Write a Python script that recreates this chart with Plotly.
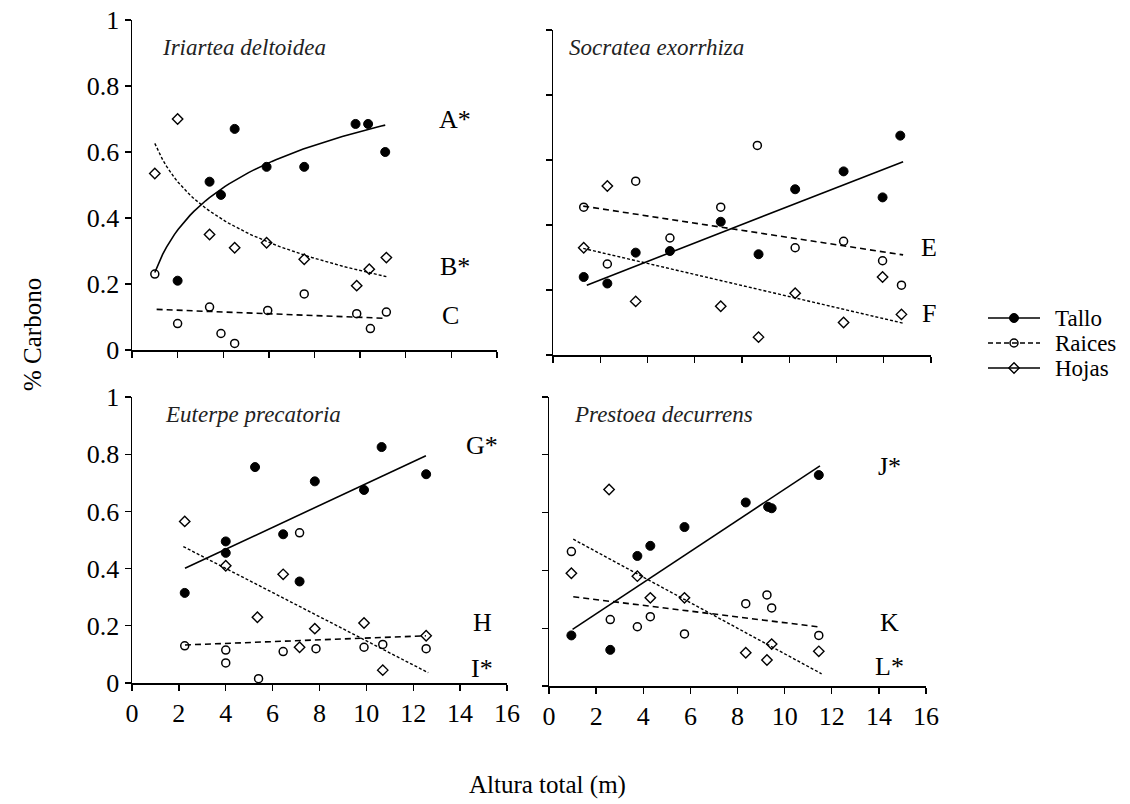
import numpy as np
import plotly.graph_objects as go

# ---------------- data ----------------
x_ticks = [0, 2, 4, 6, 8, 10, 12, 14, 16]
y_ticks = [0, 0.2, 0.4, 0.6, 0.8, 1]
y_tick_labels = ["0", "0.2", "0.4", "0.6", "0.8", "1"]
series_names = ["Tallo", "Raices", "Hojas"]
species = ["Iriartea deltoidea", "Socratea exorrhiza", "Euterpe precatoria", "Prestoea decurrens"]

# Iriartea deltoidea
iri_tallo_x = [2.0, 3.4, 3.9, 4.5, 5.9, 7.55, 9.8, 10.35, 11.1]
iri_tallo_y = [0.21, 0.51, 0.47, 0.67, 0.555, 0.555, 0.685, 0.685, 0.60]
iri_raices_x = [1.0, 2.0, 3.4, 3.9, 4.5, 5.95, 7.55, 9.85, 10.45, 11.15]
iri_raices_y = [0.23, 0.08, 0.13, 0.05, 0.02, 0.12, 0.17, 0.11, 0.065, 0.115]
iri_hojas_x = [1.0, 2.0, 3.4, 4.5, 5.9, 7.55, 9.85, 10.4, 11.15]
iri_hojas_y = [0.535, 0.70, 0.35, 0.31, 0.325, 0.275, 0.195, 0.245, 0.28]

# Socratea exorrhiza
soc_tallo_x = [1.3, 2.3, 3.5, 4.95, 7.1, 8.7, 10.25, 12.3, 13.95, 14.7]
soc_tallo_y = [0.24, 0.22, 0.315, 0.32, 0.41, 0.31, 0.51, 0.565, 0.485, 0.675]
soc_raices_x = [1.3, 2.3, 3.5, 4.95, 7.1, 8.65, 10.25, 12.3, 13.95, 14.75]
soc_raices_y = [0.455, 0.28, 0.535, 0.36, 0.455, 0.645, 0.33, 0.35, 0.29, 0.215]
soc_hojas_x = [1.3, 2.3, 3.5, 7.1, 8.7, 10.25, 12.3, 13.95, 14.75]
soc_hojas_y = [0.33, 0.52, 0.165, 0.15, 0.055, 0.19, 0.10, 0.24, 0.125]

# Euterpe precatoria
eut_tallo_x = [2.25, 4.0, 4.0, 5.25, 6.45, 7.15, 7.8, 9.9, 10.65, 12.55]
eut_tallo_y = [0.315, 0.495, 0.455, 0.755, 0.52, 0.355, 0.705, 0.675, 0.825, 0.73]
eut_raices_x = [2.25, 4.0, 4.0, 5.4, 6.45, 7.15, 7.85, 9.9, 10.7, 12.55]
eut_raices_y = [0.13, 0.115, 0.07, 0.015, 0.11, 0.525, 0.12, 0.125, 0.135, 0.12]
eut_hojas_x = [2.25, 4.0, 5.35, 6.45, 7.15, 7.8, 9.9, 10.7, 12.55]
eut_hojas_y = [0.565, 0.41, 0.23, 0.38, 0.125, 0.19, 0.21, 0.045, 0.165]

# Prestoea decurrens
pre_tallo_x = [0.95, 2.6, 3.75, 4.3, 5.75, 8.35, 9.3, 9.45, 11.45]
pre_tallo_y = [0.175, 0.125, 0.45, 0.485, 0.55, 0.635, 0.62, 0.615, 0.73]
pre_raices_x = [0.95, 2.6, 3.75, 4.3, 5.75, 8.35, 9.25, 9.45, 11.45]
pre_raices_y = [0.465, 0.23, 0.205, 0.24, 0.18, 0.285, 0.315, 0.27, 0.175]
pre_hojas_x = [0.95, 2.55, 3.75, 4.3, 5.75, 8.35, 9.25, 9.45, 11.45]
pre_hojas_y = [0.39, 0.68, 0.38, 0.305, 0.305, 0.115, 0.09, 0.145, 0.12]

# fitted trend lines:
# (label, series index 0=Tallo 1=Raices 2=Hojas, model, intercept, slope, x start, x end)
iri_trends = [("A*", 0, "log", 0.235, 0.1855, 1.0, 11.1),
              ("B*", 2, "log", 0.626, -0.1674, 1.0, 11.15),
              ("C", 1, "lin", 0.126, -0.0027, 1.08, 11.15)]
soc_trends = [("D*", 0, "lin", 0.1744, 0.02838, 1.43, 14.82),
              ("E", 1, "lin", 0.4722, -0.01108, 1.28, 14.82),
              ("F", 2, "lin", 0.3498, -0.0170, 1.28, 14.84)]
eut_trends = [("G*", 0, "lin", 0.3144, 0.0383, 2.26, 12.54),
              ("H", 1, "lin", 0.126, 0.00311, 2.26, 12.54),
              ("I*", 2, "lin", 0.5694, -0.0422, 2.19, 12.64)]
pre_trends = [("J*", 0, "lin", 0.142, 0.0539, 1.0, 11.5),
              ("K", 1, "lin", 0.319, -0.0100, 1.03, 11.43),
              ("L*", 2, "lin", 0.5535, -0.0442, 1.03, 11.57)]

panels = [
    dict(name=species[0], data=[(iri_tallo_x, iri_tallo_y), (iri_raices_x, iri_raices_y), (iri_hojas_x, iri_hojas_y)], trends=iri_trends),
    dict(name=species[1], data=[(soc_tallo_x, soc_tallo_y), (soc_raices_x, soc_raices_y), (soc_hojas_x, soc_hojas_y)], trends=soc_trends),
    dict(name=species[2], data=[(eut_tallo_x, eut_tallo_y), (eut_raices_x, eut_raices_y), (eut_hojas_x, eut_hojas_y)], trends=eut_trends),
    dict(name=species[3], data=[(pre_tallo_x, pre_tallo_y), (pre_raices_x, pre_raices_y), (pre_hojas_x, pre_hojas_y)], trends=pre_trends),
]

# ---------------- layout / style ----------------
W, H = 1130, 804
FONT = "Liberation Serif, Times New Roman, Times, DejaVu Serif, serif"
# pixel boxes of each panel: (left, right, bottom, top)
boxes = [(132, 497, 350, 20), (553, 931, 355, 30), (132, 507, 683, 397), (549, 926, 686, 397)]
# label positions (data coords) for the trend letters
letter_pos = [[(14.15, 0.70), (14.15, 0.252), (13.95, 0.106)],
              [(16.05, 0.646), (15.9, 0.332), (15.9, 0.129)],
              [(14.95, 0.832), (14.95, 0.21), (14.95, 0.052)],
              [(14.45, 0.758), (14.45, 0.221), (14.45, 0.066)]]
title_pos = [(160, 47), (567, 47), (163, 415), (572, 415)]

marker_styles = [
    dict(symbol="circle", size=9, color="black", line=dict(color="black", width=1)),
    dict(symbol="circle-open", size=8, color="black", line=dict(color="black", width=1.5)),
    dict(symbol="diamond-open", size=8, color="black", line=dict(color="black", width=1.4)),
]
line_styles = [dict(color="black", width=1.6, dash="solid"),
               dict(color="black", width=1.6, dash="6px,4px"),
               dict(color="black", width=1.4, dash="3px,2px")]

fig = go.Figure()
annotations = []

for i, p in enumerate(panels):
    ax = "" if i == 0 else str(i + 1)
    xref, yref = "x" + ax, "y" + ax
    for s, (xs, ys) in enumerate(p["data"]):
        fig.add_trace(go.Scatter(x=xs, y=ys, mode="markers", marker=marker_styles[s],
                                 xaxis=xref, yaxis=yref, showlegend=False, cliponaxis=False))
    for k, (lab, s, model, a, b, x0, x1) in enumerate(p["trends"]):
        if model == "log":
            tx = np.linspace(x0, x1, 60)
            ty = a + b * np.log(tx)
        else:
            tx = np.array([x0, x1])
            ty = a + b * tx
        fig.add_trace(go.Scatter(x=tx, y=ty, mode="lines", line=line_styles[s],
                                 xaxis=xref, yaxis=yref, showlegend=False, hoverinfo="skip"))
        lx, ly = letter_pos[i][k]
        annotations.append(dict(x=lx, y=ly, xref=xref, yref=yref, text=lab, showarrow=False,
                                font=dict(family=FONT, size=26, color="black"), xanchor="center", yanchor="middle"))
    tx_, ty_ = title_pos[i]
    annotations.append(dict(x=tx_ / W, y=1 - ty_ / H, xref="paper", yref="paper", text="<i>" + p["name"] + "</i>",
                            showarrow=False, xanchor="left", yanchor="middle",
                            font=dict(family=FONT, size=23, color="#222")))

# manual legend on a small helper axis (rows are the series names)
legend_lines = [dict(color="black", width=1.6, dash="solid"),
                dict(color="black", width=1.6, dash="5px,3px"),
                dict(color="black", width=1.6, dash="solid")]
for s, nm in enumerate(series_names):
    fig.add_trace(go.Scatter(x=[0, 1], y=[nm, nm], mode="lines", line=legend_lines[s],
                             xaxis="x5", yaxis="y5", showlegend=False, hoverinfo="skip"))
    fig.add_trace(go.Scatter(x=[0.5], y=[nm], mode="markers", marker=marker_styles[s],
                             xaxis="x5", yaxis="y5", showlegend=False, hoverinfo="skip"))
    annotations.append(dict(x=1053 / W, y=nm, xref="paper", yref="y5", text=nm, showarrow=False,
                            xanchor="left", yanchor="middle", font=dict(family=FONT, size=23, color="black")))

annotations.append(dict(x=32 / W, y=1 - 335 / H, xref="paper", yref="paper", text="% Carbono", textangle=-90,
                        xanchor="center", yanchor="middle",
                        showarrow=False, font=dict(family=FONT, size=25, color="black")))
annotations.append(dict(x=547 / W, y=1 - 785 / H, xref="paper", yref="paper", text="Altura total (m)",
                        xanchor="center", yanchor="middle",
                        showarrow=False, font=dict(family=FONT, size=25, color="black")))

layout = dict(width=W, height=H, margin=dict(l=0, r=0, t=0, b=0, autoexpand=False),
              paper_bgcolor="white", plot_bgcolor="white",
              font=dict(family=FONT, size=24, color="black"), annotations=annotations, showlegend=False,
              xaxis5=dict(domain=[988 / W, 1040 / W], range=[0, 1], visible=False, fixedrange=True, anchor="y5"),
              yaxis5=dict(domain=[1 - 380.5 / H, 1 - 305.5 / H], type="category", categoryarray=series_names,
                          range=[2.5, -0.5], visible=False, fixedrange=True, anchor="x5"))

for i, (l, r, b, t) in enumerate(boxes):
    ax = "" if i == 0 else str(i + 1)
    common = dict(showline=True, linecolor="black", linewidth=1.5, ticks="outside", ticklen=6, tickwidth=1.3,
                  tickcolor="black", showgrid=False, zeroline=False, fixedrange=True)
    layout["xaxis" + ax] = dict(common, domain=[l / W, r / W], range=[0, 16], tickvals=x_ticks,
                                showticklabels=(i >= 2), anchor="y" + ax,
                                tickfont=dict(family=FONT, size=26, color="black"))
    layout["yaxis" + ax] = dict(common, domain=[1 - b / H, 1 - t / H], range=[0, 1], tickvals=y_ticks,
                                ticktext=y_tick_labels, showticklabels=(i % 2 == 0), anchor="x" + ax,
                                tickfont=dict(family=FONT, size=26, color="black"))

fig.update_layout(layout)
fig.write_html("out.html", config={"displayModeBar": False, "staticPlot": True},
               post_script="document.body.style.margin='0';")
